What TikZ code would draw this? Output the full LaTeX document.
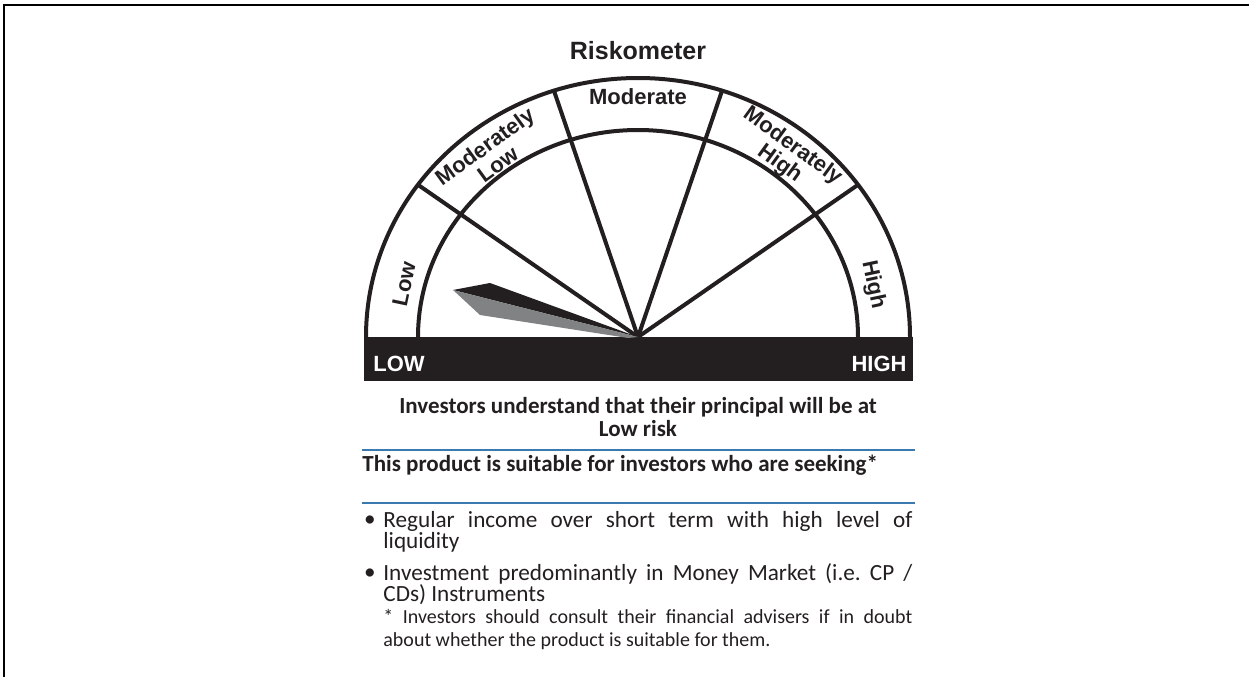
\documentclass[tikz,border=0pt]{standalone}
\usepackage{fontspec}
\setmainfont{Liberation Sans}
\newfontfamily\infofont{Carlito}
\usetikzlibrary{calc}

\definecolor{ink}{RGB}{35,31,32}
\definecolor{needlegray}{RGB}{128,130,132}
\definecolor{ruleblue}{RGB}{58,122,176}

\tikzset{
  gauge/.style={draw=ink, line width=2pt},
  bandlabel/.style={font=\bfseries\fontsize{11}{11}\selectfont, text=ink, align=center, inner sep=0pt},
  barlabel/.style={font=\bfseries\fontsize{11}{11}\selectfont, text=white, inner sep=0pt},
  blueline/.style={draw=ruleblue, line width=1.2pt},
  infotext/.style={font=\infofont\fontsize{11.6}{10.5}\selectfont, text=ink, inner sep=0pt},
  infobold/.style={font=\infofont\bfseries\fontsize{11.5}{11.5}\selectfont, text=ink, inner sep=0pt},
  notetext/.style={font=\infofont\fontsize{10}{11.5}\selectfont, text=ink, inner sep=0pt},
}

\begin{document}
\begin{tikzpicture}[x=0.5pt,y=0.5pt]
    \useasboundingbox (0,0) rectangle (1249,677);
    %frame
    \draw[line width=1.2pt] (4,0) -- (4,672) -- (1249,672);

    %title
    \node[font=\bfseries\fontsize{12.5}{12.5}\selectfont, text=ink] (title) at (638,626) {Riskometer};

    %dial
    \coordinate (c) at (638,340);
    \fill[ink] (364,296) rectangle (913,340);
    \draw[gauge] (c) ++(180:272 and 259) arc[start angle=180, end angle=0, x radius=272, y radius=259];
    \draw[gauge] (c) ++(180:220 and 207) arc[start angle=180, end angle=0, x radius=220, y radius=207];
    \foreach \a in {36,72,108,144}
        \draw[gauge] (c) -- ++(\a:272 and 259);

    %needle
    \fill[ink] (453,387) -- (490,394) -- (c) -- cycle;
    \fill[needlegray] (453,387) -- (480,362) -- (628,339) -- (c) -- cycle;

    %band labels
    \node[bandlabel, rotate=78] (low) at (404,393) {Low};
    \node[bandlabel, rotate=36] (modlow) at (491,522) {Moderately\\Low};
    \node[bandlabel] (mod) at (638,580) {Moderate};
    \node[bandlabel, rotate=-36] (modhigh) at (786,522) {Moderately\\High};
    \node[bandlabel, rotate=-78] (high) at (873,392) {High};
    \node[barlabel, anchor=west] (lowend) at (373,313) {LOW};
    \node[barlabel, anchor=east] (highend) at (907,313) {HIGH};

    %text below
    \node[infobold, align=center] (verdict) at (638,260) {Investors understand that their principal will be at\\Low risk};
    \draw[blueline] (362,227) -- (915,227);
    \node[infobold, anchor=base west] (seeking) at (362,206) {This product is suitable for investors who are seeking*};
    \draw[blueline] (362,174) -- (915,174);

    \node[infotext] (dota) at (370,156) {•};
    \node[infotext, anchor=base west, text width=264.5pt, align=justify] (itema) at (383,150)
        {Regular income over short term with high level of\linebreak liquidity};
    \node[infotext] (dotb) at (370,103) {•};
    \node[infotext, anchor=base west, text width=264.5pt, align=justify] (itemb) at (383,97)
        {Investment predominantly in Money Market (i.e.\ CP /\linebreak CDs) Instruments};
    \node[notetext, anchor=base west, text width=264.5pt, align=justify] (note) at (383,54)
        {* Investors should consult their financial advisers if in doubt\linebreak about whether the product is suitable for them.};
\end{tikzpicture}
\end{document}
